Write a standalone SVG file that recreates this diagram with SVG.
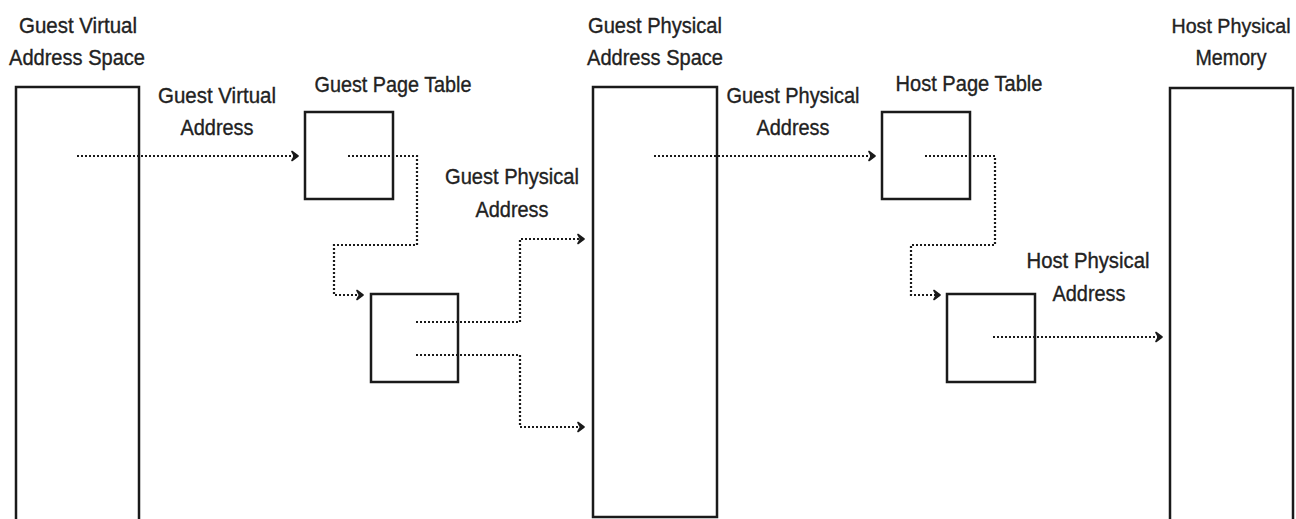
<svg xmlns="http://www.w3.org/2000/svg" width="1296" height="519" viewBox="0 0 1296 519">
<style>
.box{fill:#fff;stroke:#1a1a1a;stroke-width:2.5}
.lbl{font-family:"Liberation Sans",Arial,sans-serif;font-size:21.5px;fill:#222;stroke:#222;stroke-width:0.35;text-anchor:middle}
.con{fill:none;stroke:#1a1a1a;stroke-width:2.2;stroke-dasharray:2 2;marker-end:url(#arr)}
</style>
<defs>
<marker id="arr" markerWidth="10" markerHeight="12" refX="7.5" refY="6" orient="auto" markerUnits="userSpaceOnUse">
<path d="M1.5,1.5 L7.5,6 L1.5,10.5 L4,6 Z" fill="#1a1a1a" stroke="#1a1a1a" stroke-width="1.6" stroke-linejoin="round"/>
</marker>
</defs>
<rect width="1296" height="519" fill="#fff"/>
<g id="gvas">
<rect class="box" x="16" y="87" width="123" height="440"/>
<text class="lbl" x="78" y="33" textLength="118" lengthAdjust="spacingAndGlyphs">Guest Virtual</text>
<text class="lbl" x="77" y="65" textLength="136" lengthAdjust="spacingAndGlyphs">Address Space</text>
</g>
<g id="gpt1">
<rect class="box" x="305" y="112" width="88" height="87"/>
<text class="lbl" x="393" y="92" textLength="157" lengthAdjust="spacingAndGlyphs">Guest Page Table</text>
</g>
<g id="gpt2">
<rect class="box" x="371" y="294" width="87" height="88"/>
</g>
<g id="gpas">
<rect class="box" x="593" y="87" width="124" height="430"/>
<text class="lbl" x="655" y="33" textLength="134" lengthAdjust="spacingAndGlyphs">Guest Physical</text>
<text class="lbl" x="655" y="65" textLength="136" lengthAdjust="spacingAndGlyphs">Address Space</text>
</g>
<g id="hpt1">
<rect class="box" x="882" y="112" width="88" height="87"/>
<text class="lbl" x="969" y="91" textLength="147" lengthAdjust="spacingAndGlyphs">Host Page Table</text>
</g>
<g id="hpt2">
<rect class="box" x="947" y="294" width="88" height="88"/>
</g>
<g id="hpm">
<rect class="box" x="1170" y="88" width="123" height="440"/>
<text class="lbl" x="1231" y="33" style="font-size:20px" textLength="119" lengthAdjust="spacingAndGlyphs">Host Physical</text>
<text class="lbl" x="1231" y="65" textLength="71" lengthAdjust="spacingAndGlyphs">Memory</text>
</g>
<g id="labels">
<text class="lbl" x="217" y="103" textLength="118" lengthAdjust="spacingAndGlyphs">Guest Virtual</text>
<text class="lbl" x="217" y="135" textLength="73" lengthAdjust="spacingAndGlyphs">Address</text>
<text class="lbl" x="793" y="103" textLength="133" lengthAdjust="spacingAndGlyphs">Guest Physical</text>
<text class="lbl" x="793" y="135" textLength="73" lengthAdjust="spacingAndGlyphs">Address</text>
<text class="lbl" x="512" y="184" textLength="134" lengthAdjust="spacingAndGlyphs">Guest Physical</text>
<text class="lbl" x="512" y="217" textLength="73" lengthAdjust="spacingAndGlyphs">Address</text>
<text class="lbl" x="1088" y="268" textLength="123" lengthAdjust="spacingAndGlyphs">Host Physical</text>
<text class="lbl" x="1089" y="301" textLength="73" lengthAdjust="spacingAndGlyphs">Address</text>
</g>
<g id="connectors">
<path class="con" d="M77,156 H298"/>
<path class="con" d="M348,156 H417 V245 H334 V295 H363"/>
<path class="con" d="M416,322 H520 V239 H584"/>
<path class="con" d="M416,355 H520 V427 H584"/>
<path class="con" d="M654,156 H875"/>
<path class="con" d="M925,156 H995 V245 H911 V295 H940"/>
<path class="con" d="M993,337 H1162"/>
</g>
</svg>
